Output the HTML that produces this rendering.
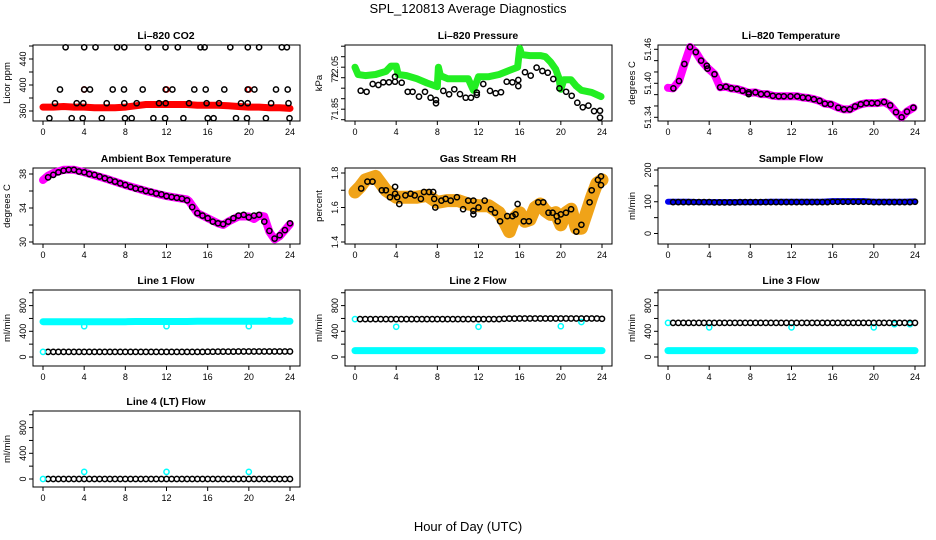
<!DOCTYPE html>
<html><head><meta charset="utf-8"><style>
html,body{margin:0;padding:0;background:#fff;}
svg{display:block;font-family:"Liberation Sans",Arial,sans-serif;}
</style></head><body>
<svg id="chart" width="936" height="540" viewBox="0 0 936 540" xmlns="http://www.w3.org/2000/svg">
<text x="468" y="13" font-size="13" text-anchor="middle">SPL_120813  Average Diagnostics</text>
<text x="468" y="531" font-size="13" text-anchor="middle">Hour of Day (UTC)</text>
</svg>
<script>
// ---------- data ----------
const hourTicks = [0,4,8,12,16,20,24];
const H48 = [0.5,1,1.5,2,2.5,3,3.5,4,4.5,5,5.5,6,6.5,7,7.5,8,8.5,9,9.5,10,10.5,11,11.5,12,12.5,13,13.5,14,14.5,15,15.5,16,16.5,17,17.5,18,18.5,19,19.5,20,20.5,21,21.5,22,22.5,23,23.5,24];
const H25 = [0,1,2,3,4,5,6,7,8,9,10,11,12,13,14,15,16,17,18,19,20,21,22,23,24];

// CO2
const co2BandVals = [366,366,367,366,366,365,365,365,366,368,370,370,370,370,370,369,369,369,368,367,366,366,365,365,364];
const co2PtHours = [2.2,4.0,5.1,7.2,7.9,10.2,11.9,13.1,15.3,15.7,18.2,19.9,21.0,23.2,23.7,
 1.65,4.0,4.57,6.77,7.87,9.69,11.92,12.57,14.7,15.81,17.62,19.89,20.54,22.64,23.78,
 1.17,3.27,3.92,6.19,7.9,9.1,11.27,11.92,14.19,15.9,17.1,19.24,19.89,22.16,23.85,
 0.62,2.79,3.86,5.71,7.97,8.62,10.73,11.86,13.64,16.0,16.58,18.75,19.82,21.66,23.95];
const co2PtVals = [458,458,458,458,458,458,458,458,458,458,458,458,458,458,458,
 393,393,393,393,393,393,393,393,393,393,393,393,393,393,393,
 372,372,372,372,372,372,372,372,372,372,372,372,372,372,372,
 349,349,349,349,349,349,349,349,349,349,349,349,349,349,349];
const co2RedHours = [4,12,20];
const co2RedVals = [393,393,393];

// Pressure
const presBandHours = [0,0.3,1,2,3,3.5,4,4.2,5,6,7,8,8.1,8.3,9,10,11,11.5,12,13,14,15,15.8,16,16.2,17,18,18.5,19,19.5,19.8,20,20.3,21,21.5,22,23,23.9];
const presBandVals = [72.05,72.015,72.01,72.015,72.03,72.055,72.055,72.015,72.01,71.995,71.975,71.957,72.05,72.01,71.995,71.995,71.995,71.94,72.005,72.005,72.015,72.035,72.05,72.14,72.11,72.105,72.105,72.1,72.075,72.04,72.0,71.945,71.99,71.99,71.96,71.94,71.93,71.91];
const presPtHours = [0.55,1.13,1.72,2.27,2.75,3.3,3.89,3.89,4.54,5.12,5.6,6.22,6.8,7.35,7.87,7.87,8.58,9.14,9.65,10.2,10.76,11.27,11.83,11.83,12.47,13.12,13.67,14.19,14.74,15.29,15.87,15.87,16.52,17.07,17.65,18.21,18.73,19.27,19.86,20.51,21.06,21.6,22.13,22.68,23.23,23.81,23.81];
const presPtVals = [71.938,71.933,71.970,71.965,71.978,71.978,71.981,72.005,71.976,71.933,71.933,71.910,71.933,71.905,71.894,71.878,71.937,71.921,71.945,71.922,71.905,71.905,71.929,71.918,71.970,71.937,71.926,71.931,71.981,71.978,71.989,71.960,72.026,72.010,72.048,72.032,72.024,71.994,71.949,71.933,71.914,71.881,71.859,71.867,71.841,71.843,71.810];

// Li-820 temperature
const tempBandHours = [0,0.5,1.07,1.59,2.15,2.7,3.22,3.8,4.52,5.07,5.63,6.15,6.7,7.25,7.84,8.49,9.04,9.63,10.18,10.76,11.25,11.9,12.55,13.1,13.63,14.18,14.73,15.25,15.8,16.55,17.1,17.66,18.18,18.73,19.28,19.8,20.36,21.0,21.59,22.15,22.7,23.22,23.84];
const tempBandVals = [51.392,51.391,51.404,51.434,51.464,51.455,51.440,51.428,51.416,51.393,51.394,51.391,51.390,51.387,51.383,51.384,51.381,51.381,51.378,51.377,51.377,51.377,51.377,51.375,51.374,51.372,51.369,51.364,51.363,51.357,51.354,51.354,51.359,51.363,51.365,51.365,51.365,51.367,51.361,51.349,51.340,51.350,51.357];
const tempPtHours = [0.52,1.07,1.59,2.15,2.7,3.22,3.77,3.84,4.52,5.07,5.63,6.15,6.7,7.25,7.84,7.84,8.49,9.04,9.63,10.18,10.76,11.25,11.9,12.55,13.1,13.63,14.18,14.73,15.25,15.8,16.55,17.1,17.66,18.18,18.73,19.28,19.8,20.36,21.0,21.59,22.15,22.7,23.22,23.84];
const tempPtVals = [51.391,51.404,51.434,51.464,51.455,51.440,51.431,51.426,51.416,51.393,51.394,51.391,51.390,51.387,51.384,51.381,51.384,51.381,51.381,51.378,51.377,51.377,51.377,51.377,51.375,51.374,51.372,51.369,51.364,51.363,51.357,51.354,51.354,51.359,51.363,51.365,51.365,51.365,51.367,51.361,51.349,51.340,51.350,51.357];

// Ambient box temperature
const ambBandHours = [0,0.5,1,2,3,4,6,8,10,12,14,14.2,15,16,17,17.5,18,19,20,20.5,21,21.5,22,22.5,23,23.5,24];
const ambBandVals = [37.3,37.8,38.1,38.5,38.5,38.2,37.5,36.7,36.0,35.4,35.0,34.8,33.4,32.8,32.2,32.0,32.4,33.0,33.0,32.7,33.1,33.0,31.2,30.3,30.7,31.4,32.1];
const ambPtVals = [37.6,37.9,38.2,38.4,38.5,38.5,38.3,38.2,38.0,37.9,37.7,37.5,37.3,37.1,36.9,36.7,36.5,36.3,36.2,36.0,35.9,35.7,35.6,35.4,35.3,35.2,35.1,34.9,34.1,33.4,33.1,32.8,32.4,32.2,32.1,32.4,32.8,33.1,33.2,32.9,33.1,33.2,32.4,31.3,30.4,30.8,31.4,32.2];

// Gas stream RH
const rhBandHours = [0,0.5,1,2,2.5,3,4,5,6,7,8,9,10,11,12,13,14,14.5,15,15.5,16,16.5,17,17.5,18,18.5,19,19.5,20,20.5,21,21.5,22,22.5,23,23.5,24];
const rhBandVals = [1.69,1.72,1.76,1.78,1.74,1.70,1.66,1.66,1.66,1.67,1.63,1.64,1.64,1.62,1.61,1.61,1.57,1.52,1.46,1.54,1.57,1.52,1.53,1.60,1.62,1.58,1.56,1.57,1.50,1.57,1.59,1.48,1.48,1.57,1.66,1.74,1.76];
const rhPtHours = [0.6,1.2,1.7,2.6,3,3.4,3.9,3.9,4.1,4.3,4.9,5.4,5.8,6.4,6.7,7.2,7.6,7.7,7.8,8.4,8.8,9.3,9.9,10.5,11,11.5,11.5,11.5,12,12.6,13.2,13.6,14.1,14.8,15.3,15.6,15.8,16.4,16.9,17.8,18.3,18.8,19.2,19.6,19.7,20,20.5,21,21.5,22,22.8,23,23.6,23.9,23.9];
const rhPtVals = [1.71,1.75,1.75,1.70,1.70,1.66,1.72,1.68,1.66,1.62,1.67,1.68,1.67,1.65,1.69,1.69,1.69,1.65,1.60,1.64,1.65,1.64,1.66,1.59,1.64,1.64,1.58,1.56,1.60,1.64,1.59,1.57,1.52,1.55,1.55,1.56,1.62,1.52,1.52,1.63,1.63,1.57,1.57,1.55,1.52,1.56,1.57,1.59,1.46,1.50,1.63,1.70,1.76,1.78,1.73];

// Sample flow
const sampBandVals = [100,100,100,99,99,99,99,99,99,99,100,100,100,100,100,100,102,102,102,102,100,100,100,100,101];
const sampPtVals = [99,99,99,99,99,99,99,99,98,98,98,98,98,99,99,99,99,99,99,99,99,99,99,99,99,99,99,99,99,99,99,100,100,100,100,100,100,100,100,99,99,99,99,99,99,99,99,100];

// Line flows
const l1CyanVals = [550,550,550,550,550,550,550,550,550,552,552,552,552,552,552,555,555,555,555,555,555,555,555,555,555];
const l1BlackVals = [80,80,80,80,80,80,80,80,80,80,80,80,80,80,80,80,80,80,80,80,80,80,80,80,80,80,80,80,80,80,80,82,82,84,84,84,84,85,85,85,85,85,85,85,85,85,85,85];
const l1ExtraHours = [0,4,12,20,22,23.5];
const l1ExtraVals = [80,480,480,480,570,570];

const l2CyanVals = [100,100,100,100,100,100,100,100,100,100,100,100,100,100,100,100,100,100,100,100,100,100,100,100,100];
const l2BlackVals = [590,590,590,590,590,590,590,590,590,590,590,590,590,590,590,590,590,590,590,590,590,590,590,590,590,590,590,590,595,598,598,600,600,600,600,600,600,600,600,600,600,600,600,600,600,600,600,595];
const l2ExtraHours = [0,4,12,20,22];
const l2ExtraVals = [590,470,470,480,545];

const l3CyanVals = [100,100,100,100,100,100,100,100,100,100,100,100,100,100,100,100,100,100,100,100,100,100,100,100,100];
const l3BlackVals = [530,530,530,530,530,530,530,530,530,530,530,530,530,530,530,530,530,530,530,530,530,530,530,530,530,530,530,530,530,530,530,530,530,530,530,530,530,530,530,530,530,530,530,530,530,530,530,530];
const l3ExtraHours = [0,4,12,20,22,23.5];
const l3ExtraVals = [530,460,460,460,510,510];

const l4BlackVals = [0,0,0,0,0,0,0,0,0,0,0,0,0,0,0,0,0,0,0,0,0,0,0,0,0,0,0,0,0,0,0,0,0,0,0,0,0,0,0,0,0,0,0,0,0,0,0,0];
const l4ExtraHours = [0,4,12,20];
const l4ExtraVals = [0,110,110,110];

// ---------- drawing ----------
const NS = "http://www.w3.org/2000/svg";
const svg = document.getElementById("chart");
const colZero = [43, 355, 668];
const rowTop = [45, 168, 290, 411];
const boxH = 76;
const PXH = 247 / 24;

function mk(tag, parent) {
  const e = document.createElementNS(NS, tag);
  parent.appendChild(e);
  return e;
}

function panel(col, row, title, ylab, v1, p1, v2, p2, ticks, labels, fmt, name) {
  const g = mk("g", svg);
  
  
  const x0 = colZero[col];
  const top = rowTop[row], bot = top + boxH;
  const left = x0 - 10, right = x0 + 257;
  const P = {
    g: g,
    xs: h => x0 + h * PXH,
    ys: v => p1 + (v - v1) * (p2 - p1) / (v2 - v1)
  };
  const box = mk("rect", g);
  
  
  box.setAttribute("x", left); box.setAttribute("y", top);
  box.setAttribute("width", right - left); box.setAttribute("height", boxH);
  box.setAttribute("fill", "none"); box.setAttribute("stroke", "#000"); box.setAttribute("stroke-width", "1");
  const t = mk("text", g);
  
  
  t.setAttribute("x", x0 + 123); t.setAttribute("y", top - 6);
  t.setAttribute("font-size", "10.5"); t.setAttribute("font-weight", "bold"); t.setAttribute("text-anchor", "middle");
  t.textContent = title;
  const yl = mk("text", g);
  
  
  yl.setAttribute("transform", "translate(" + (left - 23) + "," + (top + boxH / 2) + ") rotate(-90)");
  yl.setAttribute("font-size", "9.5"); yl.setAttribute("text-anchor", "middle");
  yl.textContent = ylab;
  hourTicks.forEach(h => {
    const x = P.xs(h);
    const tk = mk("line", g);
    
    
    tk.setAttribute("x1", x); tk.setAttribute("x2", x); tk.setAttribute("y1", bot); tk.setAttribute("y2", bot + 4);
    tk.setAttribute("stroke", "#000");
    const tl = mk("text", g);
    
    
    tl.setAttribute("x", x); tl.setAttribute("y", bot + 14);
    tl.setAttribute("font-size", "9"); tl.setAttribute("text-anchor", "middle");
    tl.textContent = h;
  });
  ticks.forEach(v => {
    const y = P.ys(v);
    const tk = mk("line", g);
    
    
    tk.setAttribute("x1", left - 4); tk.setAttribute("x2", left); tk.setAttribute("y1", y); tk.setAttribute("y2", y);
    tk.setAttribute("stroke", "#000");
  });
  labels.forEach(v => {
    const y = P.ys(v);
    const tl = mk("text", g);
    
    
    tl.setAttribute("transform", "translate(" + (left - 7) + "," + y + ") rotate(-90)");
    tl.setAttribute("font-size", "9"); tl.setAttribute("text-anchor", "middle");
    tl.textContent = fmt(v);
  });
  return P;
}

function band(P, hours, vals, color, width, name) {
  let d = "";
  hours.forEach((h, i) => { d += (i ? "L" : "M") + P.xs(h).toFixed(1) + "," + P.ys(vals[i]).toFixed(1); });
  const p = mk("path", P.g);
  
  
  p.setAttribute("d", d);
  p.setAttribute("fill", "none"); p.setAttribute("stroke", color);
  p.setAttribute("stroke-width", width); p.setAttribute("stroke-linejoin", "round"); p.setAttribute("stroke-linecap", "round");
}

function pts(P, hours, vals, color, name, r, sw) {
  hours.forEach((h, i) => {
    const c = mk("circle", P.g);
    
    
    c.setAttribute("cx", P.xs(h).toFixed(1)); c.setAttribute("cy", P.ys(vals[i]).toFixed(1));
    c.setAttribute("r", r || 2.6); c.setAttribute("fill", "none");
    c.setAttribute("stroke", color); c.setAttribute("stroke-width", sw || 1.5);
  });
}

const id = v => String(v);

// Li-820 CO2
let P = panel(0, 0, "Li\u2013820 CO2", "Licor ppm", 360, 111, 440, 59, [360,380,400,420,440,460], [360,400,440], id, "co2-panel");
band(P, H25, co2BandVals, "#ff0000", 7, "co2-red-band");
pts(P, co2RedHours, co2RedVals, "#ff0000", "co2-red-point");
pts(P, co2PtHours, co2PtVals, "#000", "co2-point");

// Pressure
P = panel(1, 0, "Li\u2013820 Pressure", "kPa", 72.0, 77.7, 72.05, 67.2, [71.8,71.85,71.9,71.95,72.0,72.05,72.1,72.15], [71.85,72.0,72.05], v => v === 72 ? "72" : v.toFixed(2), "pressure-panel");
band(P, presBandHours, presBandVals, "#22ee22", 7, "pressure-green-band");
pts(P, presPtHours, presPtVals, "#000", "pressure-point");

// Temperature
P = panel(2, 0, "Li\u2013820 Temperature", "degrees C", 51.46, 49.3, 51.34, 117.3, [51.34,51.36,51.38,51.40,51.42,51.44,51.46], [51.34,51.40,51.46], v => v.toFixed(2), "li820-temperature-panel");
band(P, tempBandHours, tempBandVals, "#ff00ff", 8, "temperature-magenta-band");
pts(P, tempPtHours, tempPtVals, "#000", "temperature-point");

// Ambient
P = panel(0, 1, "Ambient Box Temperature", "degrees C", 38, 174, 30, 242, [30,32,34,36,38], [30,34,38], id, "ambient-temperature-panel");
band(P, ambBandHours, ambBandVals, "#ff00ff", 8, "ambient-magenta-band");
pts(P, H48, ambPtVals, "#000", "ambient-point");

// RH
P = panel(1, 1, "Gas Stream RH", "percent", 1.8, 173, 1.4, 242, [1.4,1.5,1.6,1.7,1.8], [1.4,1.6,1.8], v => v.toFixed(1), "rh-panel");
band(P, rhBandHours, rhBandVals, "#f0a318", 13, "rh-orange-band");
pts(P, rhPtHours, rhPtVals, "#000", "rh-point");

// Sample flow
P = panel(2, 1, "Sample Flow", "ml/min", 0, 233.5, 200, 170, [0,50,100,150,200], [0,100,200], id, "sample-flow-panel");
band(P, H25, sampBandVals, "#0000ee", 6, "sample-flow-blue-band");
pts(P, H48, sampPtVals, "#000", "sample-flow-point");

// Line flows
const flowTicks = [0,200,400,600,800,1000];
const flowLabels = [0,400,800];
P = panel(0, 2, "Line 1 Flow", "ml/min", 0, 357, 800, 305.6, flowTicks, flowLabels, id, "line1-flow-panel");
band(P, H25, l1CyanVals, "#00ffff", 7, "line1-cyan-band");
pts(P, H48, l1BlackVals, "#000", "line1-point");
pts(P, l1ExtraHours, l1ExtraVals, "#00ffff", "line1-cyan-point");

P = panel(1, 2, "Line 2 Flow", "ml/min", 0, 357, 800, 305.6, flowTicks, flowLabels, id, "line2-flow-panel");
band(P, H25, l2CyanVals, "#00ffff", 7, "line2-cyan-band");
pts(P, l2ExtraHours, l2ExtraVals, "#00ffff", "line2-cyan-point");
pts(P, H48, l2BlackVals, "#000", "line2-point");

P = panel(2, 2, "Line 3 Flow", "ml/min", 0, 357, 800, 305.6, flowTicks, flowLabels, id, "line3-flow-panel");
band(P, H25, l3CyanVals, "#00ffff", 7, "line3-cyan-band");
pts(P, l3ExtraHours, l3ExtraVals, "#00ffff", "line3-cyan-point");
pts(P, H48, l3BlackVals, "#000", "line3-point");

P = panel(0, 3, "Line 4 (LT) Flow", "ml/min", 0, 479, 800, 427.6, flowTicks, flowLabels, id, "line4-flow-panel");
pts(P, H48, l4BlackVals, "#000", "line4-point");
pts(P, l4ExtraHours, l4ExtraVals, "#00ffff", "line4-cyan-point");
</script>
</body></html>
